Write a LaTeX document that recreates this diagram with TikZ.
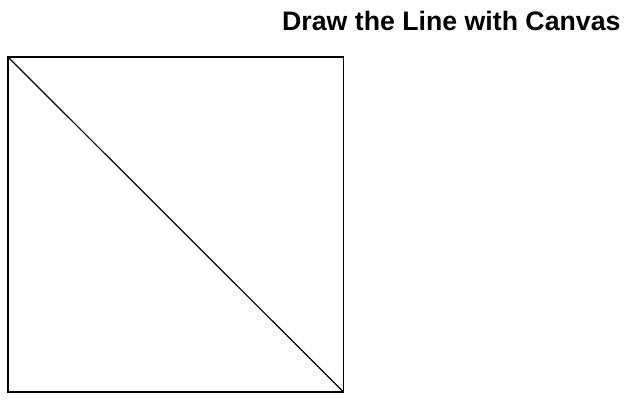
\documentclass[tikz,border=0pt]{standalone}
\usepackage{fontspec}
\setmainfont{Liberation Sans}
\begin{document}
\begin{tikzpicture}[x=1pt,y=1pt,
  frame/.style={draw=black,line width=1.6pt},
  diag/.style={draw=black,line width=1.2pt},
  title/.style={font=\bfseries\fontsize{26.7}{30}\selectfont,anchor=base west,inner sep=0pt}]
\useasboundingbox (0,0) rectangle (624,406);
\coordinate (tl) at (8,349);
\coordinate (br) at (343.5,14);
\draw[frame] (tl) rectangle (br);
\draw[diag] (tl) -- (br);
\node[title] (t) at (282,375.5) {Draw the Line with Canvas};
\end{tikzpicture}
\end{document}
